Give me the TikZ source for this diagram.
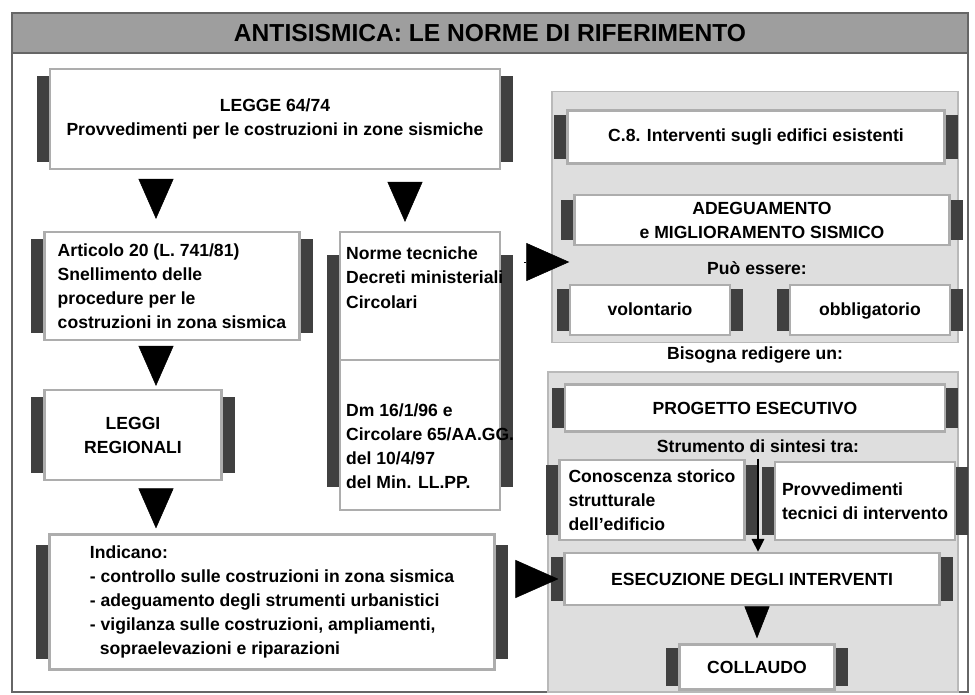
\documentclass[tikz,border=0pt]{standalone}
\usepackage{fontspec}
\setmainfont{Liberation Sans}
\usepackage{tikz}
\usetikzlibrary{arrows.meta}
\usetikzlibrary{calc}
\usetikzlibrary{positioning}

\definecolor{rollgray}{gray}{0.25}
\definecolor{edgegray}{gray}{0.68}
\definecolor{panelgray}{gray}{0.87}
\definecolor{titlegray}{gray}{0.62}

\tikzset{
  txt/.style={font=\bfseries\fontsize{10}{13.7}\selectfont, align=center},
  box/.style={txt, draw=edgegray, line width=1.2pt, fill=white},
  panel/.style={draw=gray!55, fill=panelgray, line width=0.8pt},
  downtri/.style={-{Triangle[length=8mm,width=7mm]}, line width=0.3pt},
  smalltri/.style={-{Triangle[length=6.4mm,width=5mm]}, line width=0.3pt},
  righttri/.style={-{Triangle[length=8.6mm,width=7.6mm]}, line width=0.3pt}
}

% dark rolls on the left and right side of a box
\newcommand{\rollbars}[2][8]{%
  \fill[rollgray] ([shift={(-12,#1)}]#2.north west) rectangle ([shift={(0,-#1)}]#2.south west);
  \fill[rollgray] ([shift={(0,#1)}]#2.north east) rectangle ([shift={(12,-#1)}]#2.south east);
}

\begin{document}
\begin{tikzpicture}[x=0.2mm, y=-0.2mm]

    \useasboundingbox (0,0) rectangle (975,695);

    % frame and title
    \draw [black!60, line width=0.8pt] (12,13) rectangle (968,692);
    \draw [black!60, fill=titlegray, line width=0.8pt] (12,13) rectangle (968,53);
    \node [txt, font=\bfseries\fontsize{14}{16}\selectfont] (title) at (490,33)
    {ANTISISMICA: LE NORME DI RIFERIMENTO};

    % right panels
    \node [panel, minimum width=81.2mm, minimum height=50.2mm] (upper) at (755,217) {};
    \node [panel, minimum width=82mm, minimum height=64mm] (lower) at (753,532) {};

    % left column
    \node [box, minimum width=90mm, minimum height=20mm] (legge) at (275,119)
    {LEGGE 64/74\\Provvedimenti per le costruzioni in zone sismiche};

    \node [box, align=left, minimum width=51mm, minimum height=21.6mm] (art20) at (172,286)
    {Articolo 20 (L. 741/81)\\Snellimento delle\\procedure per le\\costruzioni in zona sismica};

    \node [box, minimum width=35.4mm, minimum height=18mm] (leggi) at (133,435)
    {LEGGI\\REGIONALI};

    \node [box, align=left, minimum width=89mm, minimum height=27mm] (indicano) at (272,602)
    {Indicano:\\- controllo sulle costruzioni in zona sismica\\
     - adeguamento degli strumenti urbanistici\\
     - vigilanza sulle costruzioni, ampliamenti,\\
     \hspace*{2mm}sopraelevazioni e riparazioni};

    % middle column
    \node [box, minimum width=32mm, minimum height=55.6mm] (norme) at (420,371) {};
    \draw [edgegray, line width=1.2pt] (norme.west |- 0,360) -- (norme.east |- 0,360);

    % upper right
    \node [box, minimum width=75.4mm, minimum height=10.6mm] (c8) at (756,137)
    {C.8. Interventi sugli edifici esistenti};
    \node [box, minimum width=75mm, minimum height=10mm, inner sep=1pt] (adeg) at (762,220)
    {ADEGUAMENTO\\e MIGLIORAMENTO SISMICO};
    \node [txt] (puo) at (757,268) {Può essere:};
    \node [box, minimum width=32mm, minimum height=10mm, text height=1.6ex, text depth=0.5ex]
    (volont) at (650,310) {volontario};
    \node [box, minimum width=32mm, minimum height=10mm, text height=1.6ex, text depth=0.5ex]
    (obblig) at (870,310) {obbligatorio};

    \node [txt] (bisogna) at (755,355) {Bisogna redigere un:};

    % lower right
    \node [box, minimum width=76mm, minimum height=9.4mm] (progetto) at (755,408)
    {PROGETTO ESECUTIVO};
    \node [txt] (strum) at (758,446) {Strumento di sintesi tra:};
    \node [box, align=left, minimum width=37mm, minimum height=16mm] (conosc) at (652,500)
    {Conoscenza storico\\strutturale\\dell'edificio};
    \node [box, align=left, minimum width=36mm, minimum height=15.6mm] (provv) at (865,501)
    {Provvedimenti\\tecnici di intervento};
    \node [box, minimum width=75mm, minimum height=10.4mm] (esec) at (752,579)
    {ESECUZIONE DEGLI INTERVENTI};
    \node [box, minimum width=31mm, minimum height=9mm] (collaudo) at (757,667)
    {COLLAUDO};

    \rollbars{legge}
    \rollbars{art20}
    \rollbars{leggi}
    \rollbars[12]{indicano}
    \rollbars[24]{norme}
    \rollbars[6]{c8}
    \rollbars[6]{adeg}
    \rollbars[5]{volont}
    \rollbars[5]{obblig}
    \rollbars[5]{progetto}
    \rollbars[6]{conosc}
    \rollbars[6]{provv}
    \rollbars[5]{esec}
    \rollbars[5]{collaudo}

    % texts of the middle box, over its rolls
    \node [txt, align=left, anchor=north west] (normeup) at ([shift={(1,10)}]norme.north west)
    {Norme tecniche\\Decreti ministeriali\\Circolari};
    \node [txt, align=left, anchor=south west] (normedown) at ([shift={(1,-16)}]norme.south west)
    {Dm 16/1/96 e\\Circolare 65/AA.GG.\\del 10/4/97\\del Min. LL.PP.};

    % arrows
    \coordinate (col) at (156,0);
    \coordinate (col2) at (405,0);
    \coordinate (n1) at (530,262);

    \draw [downtri, shorten <=1.8mm, shorten >=2.4mm] (legge.south -| col) -- (art20.north -| col);
    \draw [downtri, shorten <=2.4mm, shorten >=1.8mm] (legge.south -| col2) -- (norme.north -| col2);
    \draw [downtri, shorten <=1mm, shorten >=0.6mm] (art20.south -| col) -- (leggi.north -| col);
    \draw [downtri, shorten <=1.6mm, shorten >=1mm] (leggi.south -| col) -- (indicano.north -| col);

    \draw [righttri, shorten <=4.6mm, shorten >=-3.6mm] (norme.east |- n1) -- (upper.west |- n1);
    \draw [righttri, shorten <=4.4mm, shorten >=1mm] (indicano.east |- esec.west) -- (esec.west);

    \draw [-{Triangle[length=2.6mm,width=2.4mm]}, line width=1.6pt]
    (strum.south) -- (esec.north -| strum.south);
    \draw [smalltri, shorten <=0.4mm, shorten >=1mm] (esec.south -| collaudo.north) -- (collaudo.north);

\end{tikzpicture}
\end{document}
